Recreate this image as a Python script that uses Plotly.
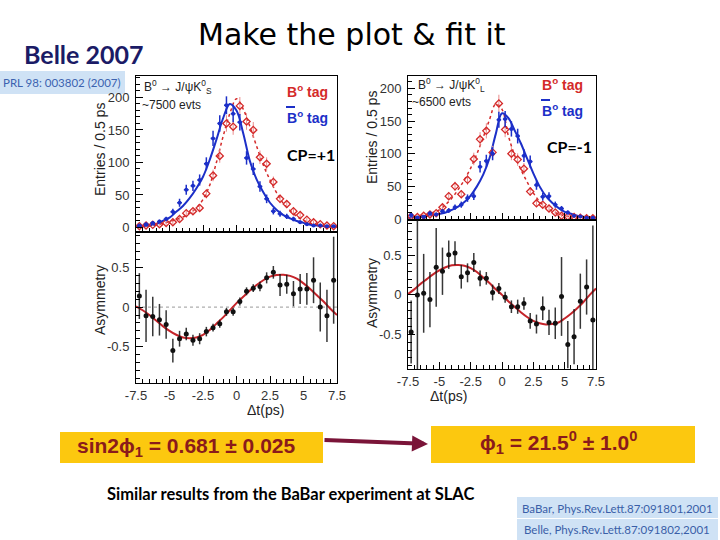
import plotly.graph_objects as go

# ---------------- data ----------------
DT_BINS = [-7.25, -6.75, -6.25, -5.75, -5.25, -4.75, -4.25, -3.75, -3.25, -2.75,
           -2.25, -1.75, -1.25, -0.75, -0.25, 0.25, 0.75, 1.25, 1.75, 2.25,
           2.75, 3.25, 3.75, 4.25, 4.75, 5.25, 5.75, 6.25, 6.75, 7.25]
FIT_DT = [-7.5, -7.0, -6.5, -6.0, -5.5, -5.0, -4.5, -4.0, -3.5, -3.0, -2.5, -2.0,
          -1.5, -1.0, -0.5, 0.0, 0.5, 1.0, 1.5, 2.0, 2.5, 3.0, 3.5, 4.0, 4.5, 5.0,
          5.5, 6.0, 6.5, 7.0, 7.5]

# CP = +1 (J/psi K_S), left
L_B0_COUNTS = [2, 3, 4, 5, 7, 8, 13, 22, 25, 30, 52, 80, 110, 160, 155, 187, 163, 150,
               108, 98, 70, 44, 36, 25, 19, 12, 8, 5, 3, 2]
L_B0BAR_COUNTS = [3, 5, 7, 9, 13, 24, 38, 58, 64, 73, 98, 137, 160, 188, 175, 162, 107,
                  90, 63, 44, 25, 21, 17, 13, 8, 5, 3, 3, 2, 2]
L_B0_FIT = [1, 2, 2.5, 4, 6, 9, 12, 16, 22, 30, 43, 65, 100, 140, 175, 198, 182, 155,
            125, 96, 73, 53, 37, 26, 17, 11, 6, 4, 2.5, 1.5, 1]
L_B0BAR_FIT = [2, 2, 3, 5, 10, 15, 24, 33, 45, 60, 78, 104, 135, 168, 190, 180, 145, 102,
               74, 54, 38, 27, 19, 14, 10, 7, 4, 3, 2, 1, 1]
L_ASYM = [0.14, -0.11, -0.12, -0.16, -0.22, -0.55, -0.40, -0.34, -0.42, -0.40, -0.31,
          -0.26, -0.21, -0.06, -0.06, 0.07, 0.20, 0.24, 0.26, 0.37, 0.44, 0.28, 0.29,
          0.17, 0.23, 0.23, 0.34, 0.0, -0.11, 0.34]
L_ASYM_ERR = [0.29, 0.33, 0.25, 0.2, 0.18, 0.15, 0.1, 0.08, 0.07, 0.07, 0.06, 0.05, 0.05,
              0.05, 0.05, 0.05, 0.05, 0.05, 0.06, 0.07, 0.08, 0.14, 0.12, 0.16, 0.19, 0.2,
              0.29, 0.31, 0.33, 0.55]
L_ASYM_FIT = [0.01, -0.04, -0.1, -0.17, -0.24, -0.3, -0.35, -0.385, -0.395, -0.385, -0.35,
              -0.29, -0.21, -0.13, -0.04, 0.05, 0.13, 0.21, 0.28, 0.34, 0.385, 0.405, 0.41,
              0.395, 0.36, 0.3, 0.23, 0.15, 0.07, -0.02, -0.1]

# CP = -1 (J/psi K_L), right
R_B0_COUNTS = [4, 3, 5, 7, 9, 18, 35, 50, 38, 60, 92, 122, 135, 102, 177, 137, 100, 91,
               77, 42, 24, 22, 16, 10, 5, 4, 3, 2, 1, 1]
R_B0BAR_COUNTS = [6, 2, 3, 9, 7, 12, 13, 18, 22, 32, 35, 80, 89, 100, 152, 153, 138, 127,
                  97, 88, 52, 34, 35, 22, 16, 10, 5, 4, 2, 2]
R_B0_FIT = [2, 3, 5, 7, 10, 14, 22, 32, 45, 60, 78, 100, 125, 152, 176, 168, 128, 98, 76,
            57, 40, 27, 18, 12, 8, 5, 3.5, 2.5, 2, 1.5, 1]
R_B0BAR_FIT = [2, 3, 4, 5, 6, 8, 10, 14, 19, 26, 36, 50, 68, 93, 130, 162, 155, 136, 116,
               93, 70, 50, 35, 25, 17, 11, 8, 5, 3.5, 2.5, 2]
R_ASYM = [-0.47, 0.0, 0.02, -0.06, 0.35, 0.3, 0.51, 0.53, 0.23, 0.28, 0.41, 0.21, 0.21,
          0.03, 0.08, -0.03, -0.15, -0.15, -0.11, -0.33, -0.37, -0.17, -0.35, -0.36,
          -0.02, -0.63, -0.53, -0.08, 0.1, -0.32]
R_ASYM_ERR = [0.4, 1.2, 0.5, 0.35, 0.5, 0.3, 0.18, 0.15, 0.15, 0.12, 0.12, 0.1, 0.08, 0.1,
              0.07, 0.07, 0.08, 0.09, 0.08, 0.1, 0.12, 0.15, 0.16, 0.2, 0.5, 0.3, 0.35,
              0.35, 0.35, 1.2]
R_ASYM_FIT = [0.01, 0.07, 0.14, 0.2, 0.26, 0.31, 0.35, 0.375, 0.38, 0.37, 0.34, 0.29, 0.22,
              0.15, 0.07, 0.0, -0.08, -0.15, -0.22, -0.28, -0.33, -0.36, -0.375, -0.37,
              -0.35, -0.3, -0.24, -0.17, -0.09, 0.0, 0.08]

DT_TICK_VALS = [-7.5, -5, -2.5, 0, 2.5, 5, 7.5]
DT_TICK_TEXT = ["-7.5", "-5", "-2.5", "0", "2.5", "5", "7.5"]
COUNT_TICK_VALS = [0, 50, 100, 150, 200]
COUNT_TICK_TEXT = ["0", "50", "100", "150", "200"]
ASYM_TICK_VALS = [-0.5, 0, 0.5]
ASYM_TICK_TEXT = ["-0.5", "0", "0.5"]

# ---------------- styling ----------------
W, H = 720, 540
BLUE = "#1c2fc8"
RED = "#d42a2a"
RED_ERR = "#e98c8c"
FIT_RED = "#c4242a"
MAROON = "#8a1b1b"
YELLOW = "#fcc80f"
LIGHTBLUE = "#cfe2f5"
TICKFONT = dict(family="Liberation Sans, Arial", size=13, color="#333")


def px(x):
    return x / W


def py(y):
    return 1 - y / H


fig = go.Figure()


def hist_panel(xa, ya, b0, b0bar, fit_b0, fit_b0bar):
    fig.add_trace(go.Scatter(x=FIT_DT, y=fit_b0, mode="lines", xaxis=xa, yaxis=ya,
                             line=dict(color=RED, width=1.5, dash="dot", shape="spline"),
                             showlegend=False, hoverinfo="skip"))
    fig.add_trace(go.Scatter(x=FIT_DT, y=fit_b0bar, mode="lines", xaxis=xa, yaxis=ya,
                             line=dict(color=BLUE, width=2, shape="spline"),
                             showlegend=False, hoverinfo="skip"))
    fig.add_trace(go.Scatter(x=DT_BINS, y=b0, mode="markers", xaxis=xa, yaxis=ya,
                             marker=dict(symbol="diamond-open", size=5.5, color=RED,
                                         line=dict(width=1.3, color=RED)),
                             error_y=dict(type="sqrt", color=RED_ERR, thickness=1, width=0),
                             showlegend=False))
    fig.add_trace(go.Scatter(x=DT_BINS, y=b0bar, mode="markers", xaxis=xa, yaxis=ya,
                             marker=dict(symbol="circle", size=4, color=BLUE),
                             error_y=dict(type="sqrt", color=BLUE, thickness=1.5, width=0),
                             error_x=dict(type="constant", value=0.18, color=BLUE,
                                          thickness=1.5, width=0),
                             showlegend=False))


def asym_panel(xa, ya, asym, err, fit):
    fig.add_trace(go.Scatter(x=FIT_DT, y=fit, mode="lines", xaxis=xa, yaxis=ya,
                             line=dict(color=FIT_RED, width=2, shape="spline"),
                             showlegend=False, hoverinfo="skip"))
    fig.add_trace(go.Scatter(x=DT_BINS, y=asym, mode="markers", xaxis=xa, yaxis=ya,
                             marker=dict(symbol="circle", size=5, color="#111"),
                             error_y=dict(type="data", array=err, color="rgba(20,20,20,0.85)",
                                          thickness=1.5, width=0),
                             showlegend=False))


hist_panel("x", "y", L_B0_COUNTS, L_B0BAR_COUNTS, L_B0_FIT, L_B0BAR_FIT)
asym_panel("x2", "y2", L_ASYM, L_ASYM_ERR, L_ASYM_FIT)
hist_panel("x3", "y3", R_B0_COUNTS, R_B0BAR_COUNTS, R_B0_FIT, R_B0BAR_FIT)
asym_panel("x4", "y4", R_ASYM, R_ASYM_ERR, R_ASYM_FIT)

common = dict(showline=True, linecolor="black", linewidth=1, mirror=True,
              ticks="inside", ticklen=7, tickcolor="black", tickwidth=1, automargin=False,
              showgrid=False, zeroline=False, tickfont=TICKFONT, fixedrange=True)


def xax(dom, anchor, labels):
    d = dict(common)
    d.update(domain=dom, anchor=anchor, range=[-7.5, 7.5], tickmode="array",
             tickvals=DT_TICK_VALS, ticktext=DT_TICK_TEXT, showticklabels=labels,
             minor=dict(ticks="inside", ticklen=4, tickmode="linear", tick0=-7.5,
                        dtick=0.5, tickcolor="black"))
    return d


def yax(dom, anchor, rng, vals, text, mdt):
    d = dict(common)
    d.update(domain=dom, anchor=anchor, range=rng, tickmode="array", tickvals=vals,
             ticktext=text, ticklabelstandoff=3,
             minor=dict(ticks="inside", ticklen=4, tickmode="linear", tick0=0,
                        dtick=mdt, tickcolor="black"))
    return d


LX = [px(136), px(337)]
RX = [px(408), px(596)]
fig.update_layout(
    width=W, height=H, margin=dict(l=0, r=0, t=0, b=0, autoexpand=False),
    paper_bgcolor="white", plot_bgcolor="white", showlegend=False,
    xaxis=xax(LX, "y", False),
    yaxis=yax([py(232), py(76)], "x", [-7, 233], COUNT_TICK_VALS, COUNT_TICK_TEXT, 10),
    xaxis2=xax(LX, "y2", True),
    yaxis2=yax([py(383), py(232)], "x2", [-0.96, 0.95], ASYM_TICK_VALS, ASYM_TICK_TEXT, 0.1),
    xaxis3=xax(RX, "y3", False),
    yaxis3=yax([py(220), py(76)], "x3", [-1.5, 219], COUNT_TICK_VALS, COUNT_TICK_TEXT, 10),
    xaxis4=xax(RX, "y4", True),
    yaxis4=yax([py(369), py(220)], "x4", [-0.94, 0.95], ASYM_TICK_VALS, ASYM_TICK_TEXT, 0.1),
)

shapes = [
    dict(type="line", xref="x2 domain", x0=0, x1=1, yref="y2", y0=0, y1=0,
         line=dict(color="#999", width=1, dash="dot"), layer="below"),
    dict(type="rect", xref="paper", yref="paper", x0=px(0), x1=px(125), y0=py(94), y1=py(71),
         fillcolor=LIGHTBLUE, line=dict(width=0), layer="below"),
    dict(type="rect", xref="paper", yref="paper", x0=px(60), x1=px(323), y0=py(463), y1=py(432),
         fillcolor=YELLOW, line=dict(width=0), layer="below"),
    dict(type="rect", xref="paper", yref="paper", x0=px(431), x1=px(695), y0=py(463), y1=py(426),
         fillcolor=YELLOW, line=dict(width=0), layer="below"),
    dict(type="rect", xref="paper", yref="paper", x0=px(517), x1=px(718), y0=py(518), y1=py(497),
         fillcolor=LIGHTBLUE, line=dict(width=0), layer="below"),
    dict(type="rect", xref="paper", yref="paper", x0=px(517), x1=px(718), y0=py(540), y1=py(519),
         fillcolor=LIGHTBLUE, line=dict(width=0), layer="below"),
    # overlines for B-bar labels
    dict(type="line", xref="paper", yref="paper", x0=px(286), x1=px(295), y0=py(107), y1=py(107),
         line=dict(color=BLUE, width=2)),
    dict(type="line", xref="paper", yref="paper", x0=px(541), x1=px(550), y0=py(100), y1=py(100),
         line=dict(color=BLUE, width=2)),
]

ann = []


def text(x, y, s, size, color="black", family="Liberation Sans, Arial", xanchor="left",
         angle=0):
    ann.append(dict(x=px(x), y=py(y), xref="paper", yref="paper", text=s, showarrow=False,
                    xanchor=xanchor, yanchor="middle", textangle=angle,
                    font=dict(size=size, color=color, family=family)))


text(22, 54, "<b>Belle 2007</b>", 25, "#1b1b66", "Lato")
text(352, 34, "Make the plot &amp; fit it", 30, "black", "DejaVu Sans", "center")
text(62, 82, "PRL 98: 003802 (2007)", 11.5, "#3c63b0", "Lato", "center")

# left panel labels
text(142, 87, "B<sup>0</sup> → J/ψK<sup>0</sup><sub>S</sub>", 12, "#222")
text(140, 105, "~7500 evts", 12, "#222")
text(285, 91, "<b>B<sup>o</sup> tag</b>", 14, RED)
text(285, 117, "<b>B<sup>o</sup> tag</b>", 14, BLUE)
text(285, 155, "<b>CP=+1</b>", 16, "black", "Lato")
text(100, 150, "Entries / 0.5 ps", 14, "#222", angle=-90, xanchor="center")
text(100, 300, "Asymmetry", 14, "#222", angle=-90, xanchor="center")
text(265, 410, "Δt(ps)", 14, "#222", xanchor="center")

# right panel labels
text(416, 85, "B<sup>0</sup> → J/ψK<sup>0</sup><sub>L</sub>", 12, "#222")
text(410, 102, "~6500 evts", 12, "#222")
text(540, 84, "<b>B<sup>o</sup> tag</b>", 14, RED)
text(540, 110, "<b>B<sup>o</sup> tag</b>", 14, BLUE)
text(545, 147, "<b>CP=-1</b>", 16, "black", "Lato")
text(372, 138, "Entries / 0.5 ps", 14, "#222", angle=-90, xanchor="center")
text(372, 293, "Asymmetry", 14, "#222", angle=-90, xanchor="center")
text(448, 396, "Δt(ps)", 14, "#222", xanchor="center")

# results
text(186, 447, "<b>sin2ϕ<sub>1</sub> = 0.681 ± 0.025</b>", 21, MAROON, xanchor="center")
text(558, 442, "<b>ϕ<sub>1</sub> = 21.5<sup>0</sup> ± 1.0<sup>0</sup></b>", 21, MAROON,
     xanchor="center")
text(290, 494, "<b>Similar results from the BaBar experiment at SLAC</b>", 16.5, "black",
     "Lato", "center")
text(617, 508, "BaBar, Phys.Rev.Lett.87:091801,2001", 11.5, "#3a5fa8", "Lato", "center")
text(617, 529, "Belle, Phys.Rev.Lett.87:091802,2001", 11.5, "#3a5fa8", "Lato", "center")

# arrow
ann.append(dict(x=px(428), y=py(444), xref="paper", yref="paper", ax=-105, ay=-4,
                axref="pixel", ayref="pixel", showarrow=True, arrowhead=2, arrowsize=0.8,
                arrowwidth=4, arrowcolor="#7a1438", text=""))

fig.update_layout(shapes=shapes, annotations=ann)
fig.write_html("out.html", config={"displayModeBar": False},
               post_script="document.body.style.margin='0px';")
